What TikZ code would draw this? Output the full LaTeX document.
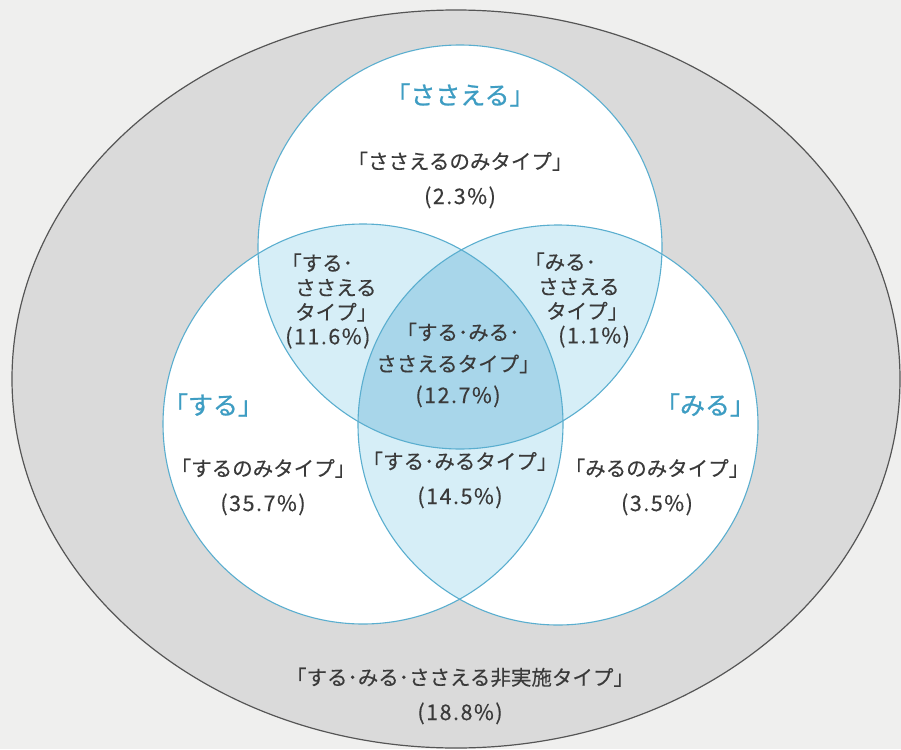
\documentclass[tikz,border=0pt]{standalone}
\usepackage{fontspec}
\setmainfont{Noto Sans CJK JP}[FakeBold=0.25]
\newfontfamily\titlef{Noto Sans CJK JP}[FakeBold=0.9]
\newfontfamily\numf{Noto Sans CJK JP}[LetterSpace=7,Scale=1.05,FakeBold=0.25]
\newcommand\pct[1]{{\numf #1}}
\definecolor{pagebg}{HTML}{EFEFEE}
\definecolor{ellfill}{HTML}{DADADA}
\definecolor{ellline}{HTML}{555555}
\definecolor{cline}{HTML}{5AAECF}
\definecolor{pairfill}{HTML}{D6EEF7}
\definecolor{triplefill}{HTML}{A8D6EA}
\definecolor{titleblue}{HTML}{3E9DC3}
\definecolor{txt}{HTML}{3A3A3A}
\tikzset{
  title/.style={text=titleblue, font=\titlef\fontsize{25}{30}\selectfont, inner sep=0pt},
  lbl/.style={text=txt, font=\fontsize{20.5}{35}\selectfont, align=center, inner sep=0pt},
  lblsmall/.style={text=txt, font=\fontsize{20.5}{24.5}\selectfont, align=left, inner sep=0pt, anchor=west},
  lbltri/.style={text=txt, font=\fontsize{20.5}{31.5}\selectfont, align=center, inner sep=0pt},
  circ/.style={draw=cline, line width=1.1pt}
}
\begin{document}
\begin{tikzpicture}[x=1pt,y=-1pt]
\useasboundingbox (0,0) rectangle (901,749);
\fill[pagebg] (0,0) rectangle (901,749);
\coordinate (E) at (456,379);
\coordinate (T) at (460,247);
\coordinate (L) at (363,424);
\coordinate (R) at (558,425);
\filldraw[fill=ellfill, draw=ellline, line width=1.2pt] (E) ellipse [x radius=444pt, y radius=369pt];
\fill[white] (T) circle[radius=202pt];
\fill[white] (L) circle[radius=200pt];
\fill[white] (R) circle[radius=200pt];
\begin{scope}
  \clip (T) circle[radius=202pt];
  \fill[pairfill] (L) circle[radius=200pt];
  \fill[pairfill] (R) circle[radius=200pt];
\end{scope}
\begin{scope}
  \clip (L) circle[radius=200pt];
  \fill[pairfill] (R) circle[radius=200pt];
\end{scope}
\begin{scope}
  \clip (T) circle[radius=202pt];
  \clip (L) circle[radius=200pt];
  \fill[triplefill] (R) circle[radius=200pt];
\end{scope}
\draw[circ] (T) circle[radius=202pt];
\draw[circ] (L) circle[radius=200pt];
\draw[circ] (R) circle[radius=200pt];

\node[title] (tS) at (460,95) {「ささえる」};
\node[title] (tL) at (213,405) {「する」};
\node[title] (tR) at (705,405) {「みる」};

\node[lbl] (sOnly) at (460,180) {「ささえるのみタイプ」\\\pct{(2.3\%)}};
\node[lblsmall] (lsPair) at (281,301) {「する･\\\hspace*{14pt}ささえる\\\hspace*{14pt}タイプ」\\\hspace*{4pt}\pct{(11.6\%)}};
\node[lblsmall] (rsPair) at (524,300) {「みる･\\\hspace*{14pt}ささえる\\\hspace*{22pt}タイプ」\\\hspace*{34pt}\pct{(1.1\%)}};
\node[lbltri] (all) at (458,365) {「する･みる･\\ささえるタイプ」\\\pct{(12.7\%)}};
\node[lbl] (lOnly) at (263,487) {「するのみタイプ」\\\pct{(35.7\%)}};
\node[lbl] (lrPair) at (460,480) {「する･みるタイプ」\\\pct{(14.5\%)}};
\node[lbl] (rOnly) at (657,487) {「みるのみタイプ」\\\pct{(3.5\%)}};
\node[lbl] (none) at (460,696) {「する･みる･ささえる非実施タイプ」\\\pct{(18.8\%)}};
\end{tikzpicture}
\end{document}
